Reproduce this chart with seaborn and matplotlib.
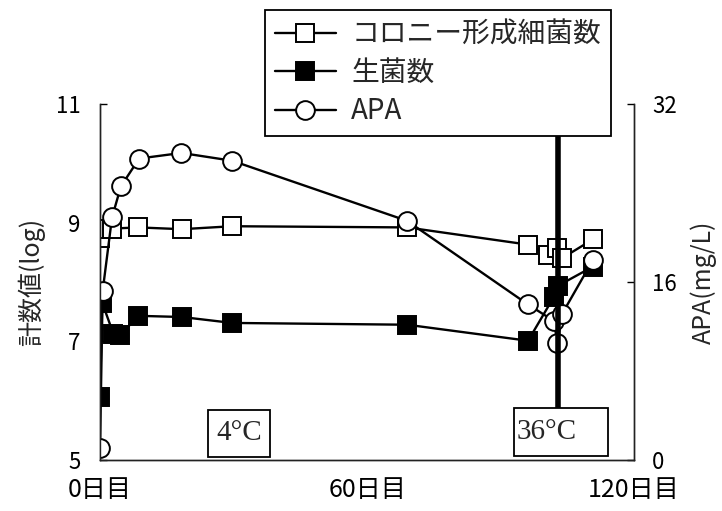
import matplotlib
matplotlib.use('Agg')
import matplotlib.pyplot as plt
import seaborn as sns
from matplotlib.patches import Rectangle

# data
colony_day = [0, 0.5, 2.7, 8.6, 18.4, 29.7, 69, 96.2, 100.7, 102.7, 103.8, 110.8]
colony_log = [8.75, 8.9, 8.9, 8.92, 8.89, 8.94, 8.92, 8.63, 8.46, 8.58, 8.4, 8.72]

live_day = [0, 0.5, 3, 4.5, 8.6, 18.4, 29.7, 69, 96.2, 102, 103, 110.8]
live_log = [6.06, 7.65, 7.13, 7.1, 7.43, 7.41, 7.31, 7.28, 7.01, 7.75, 7.94, 8.26]

apa_day = [0, 0.6, 2.7, 4.7, 8.8, 18.3, 29.7, 69, 96.1, 102, 102.8, 103.8, 110.8]
apa_mg = [1.1, 15.2, 21.8, 24.6, 27.1, 27.6, 26.9, 21.5, 14.0, 12.5, 10.5, 13.1, 18.0]

x_ticks = [0, 60, 120]
x_labels = ['0日目', '60日目', '120日目']
left_ticks = [5, 7, 9, 11]
right_ticks = [0, 16, 32]
switch_day = 102.9

sns.set_style('white')
plt.rcParams['font.family'] = ['Noto Sans CJK JP', 'DejaVu Sans']

fig = plt.figure(figsize=(7.22, 5.11), dpi=100)
ax = fig.add_axes([100 / 722, 51 / 511, 534 / 722, 356 / 511])
ax2 = ax.twinx()

mk = dict(color='black', linewidth=1.7, markersize=13.5, markeredgecolor='black',
          markeredgewidth=1.4)
sns.lineplot(x=colony_day, y=colony_log, ax=ax, sort=False, marker='s',
             markerfacecolor='white', label='コロニー形成細菌数', legend=False, **mk)
sns.lineplot(x=live_day, y=live_log, ax=ax, sort=False, marker='s',
             markerfacecolor='black', label='生菌数', legend=False, **mk)
sns.lineplot(x=apa_day, y=apa_mg, ax=ax2, sort=False, marker='o',
             markerfacecolor='white', label='APA', legend=False, **mk)

# temperature shift line
ax2.plot([switch_day, switch_day], [4.7, 29.2], color='black', linewidth=4, zorder=5)

ax.set_xlim(0, 120)
ax.set_ylim(5, 11)
ax2.set_ylim(0, 32)
ax.set_xticks(x_ticks)
ax.set_xticklabels(x_labels)
ax.set_yticks(left_ticks)
ax2.set_yticks(right_ticks)

for a in (ax, ax2):
    a.spines['top'].set_visible(False)
    for s in a.spines.values():
        s.set_color('#222222')
        s.set_linewidth(1.0)
    a.tick_params(direction='in', length=5, width=1, colors='black', labelsize=16)
ax.tick_params(axis='y', pad=14)
ax.tick_params(axis='x', pad=12, labelsize=18)
ax2.tick_params(axis='y', pad=13)

ax.set_ylabel('計数値(log)', fontsize=18, labelpad=8)
ax2.set_ylabel('APA(mg/L)', fontsize=18, labelpad=10)

# temperature boxes
ax.add_patch(Rectangle((24.3, 5.05), 13.8, 0.8, facecolor='white', edgecolor='black',
                       linewidth=1.3, zorder=6))
ax.text(31.2, 5.46, '4°C', ha='center', va='center', fontsize=21,
        family='Liberation Serif', zorder=7)
ax2.add_patch(Rectangle((93.0, 0.36), 21.2, 4.34, facecolor='white', edgecolor='black',
                        linewidth=1.3, zorder=6))
ax2.text(93.5, 2.5, '36°C', ha='left', va='center', fontsize=21,
         family='Liberation Serif', zorder=7)

handles = ax.lines[:2] + ax2.lines[:1]
leg = fig.legend(handles=handles, labels=[h.get_label() for h in handles],
                 loc='upper left', bbox_to_anchor=(265 / 722, 1 - 10 / 511),
                 fontsize=20, frameon=True, fancybox=False, framealpha=1,
                 handlelength=2.2, handletextpad=0.55, labelspacing=0.3,
                 borderpad=0.35, borderaxespad=0)
leg.get_frame().set_edgecolor('black')
leg.get_frame().set_linewidth(1.3)
leg.set_zorder(10)

fig.savefig('out.png', dpi=100)
